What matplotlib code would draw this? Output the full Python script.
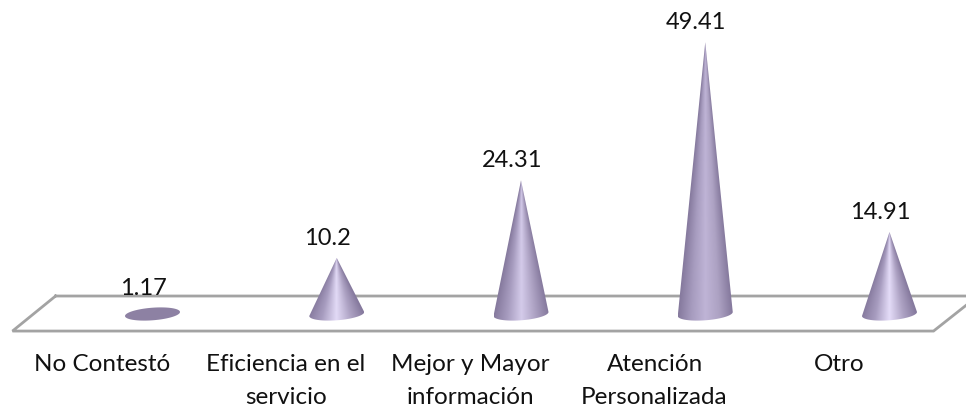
import numpy as np
import matplotlib
matplotlib.use('Agg')
import matplotlib.pyplot as plt
from matplotlib.colors import LinearSegmentedColormap
from matplotlib.patches import Polygon

categories = ['No Contestó', 'Eficiencia en el\nservicio', 'Mejor y Mayor\ninformación',
              'Atención\nPersonalizada', 'Otro']
values = [1.17, 10.2, 24.31, 49.41, 14.91]
value_labels = ['1.17', '10.2', '24.31', '49.41', '14.91']
highlights = ['#9a8fb2', '#e2daf6', '#d4cbea', '#bfb4d6', '#e4dcf8']

plt.rcParams['font.family'] = ['Lato', 'DejaVu Sans']

fig = plt.figure(figsize=(9.66, 4.07), dpi=100)
ax = fig.add_axes([0, 0, 1, 1])

# one category = 184.25 px, one unit = 5.5 px
xlim = (-152.5 / 184.25, (966 - 152.5) / 184.25)
ylim = ((314 - 407) / 5.5, 314 / 5.5)
half_w = 27.5 / 184.25
half_h = 6.3 / 5.5
tilt = 2 / 5.5

# floor of the 3d chart
floor_x = [-0.526, 4.418, np.nan, -0.526, -0.76, 4.239, 4.418]
floor_y = [3.27, 3.27, np.nan, 3.27, -3.1, -3.1, 1.64]
ax.plot(floor_x, floor_y, color='#a3a3a3', lw=2, solid_joinstyle='miter', zorder=1)

t = np.linspace(np.pi, 2 * np.pi, 40)
for i, v in enumerate(values):
    cmap = LinearSegmentedColormap.from_list('cone', ['#85799d', '#a79cbf', highlights[i], '#ada2c3', '#85799d'])
    if v < 2:
        # too short to show as a cone, just the tilted base
        t2 = np.linspace(0, 2 * np.pi, 80)
        ax.add_patch(Polygon(list(zip(i + half_w * np.cos(t2), half_h * np.sin(t2) + tilt * np.cos(t2))),
                             closed=True, fc='#8d81a3', ec='none', zorder=3))
    else:
        edge_x = i + half_w * np.cos(t)
        edge_y = half_h * np.sin(t) + tilt * np.cos(t)
        outline = list(zip(edge_x, edge_y)) + [(i, v)]
        poly = Polygon(outline, closed=True, transform=ax.transData, fc='none', ec='none')
        ax.add_patch(poly)
        # shading follows the taper of the cone
        gx, gy = np.meshgrid(np.linspace(-1, 1, 200), np.linspace(v, -half_h - tilt, 400))
        taper = np.clip(1 - gy / v, 0.002, None)
        shade = np.clip(gx / taper, -1, 1) * 0.5 + 0.5
        im = ax.imshow(shade, cmap=cmap, vmin=0, vmax=1, aspect='auto', interpolation='bilinear',
                       extent=(i - half_w, i + half_w, -half_h - tilt, v), zorder=3)
        im.set_clip_path(poly)

    ax.annotate(value_labels[i], (i, v), xytext=(-6.5, 14), textcoords='offset points',
                ha='center', va='center', fontsize=17, color='#111111', zorder=4)
    ax.annotate(categories[i], (i, 0), xytext=(-36.5, -28.5), textcoords='offset points',
                ha='center', va='top', fontsize=17.5, color='#111111', linespacing=1.75)

ax.set_xlim(xlim)
ax.set_ylim(ylim)
ax.axis('off')

fig.savefig('out.png', dpi=100)
